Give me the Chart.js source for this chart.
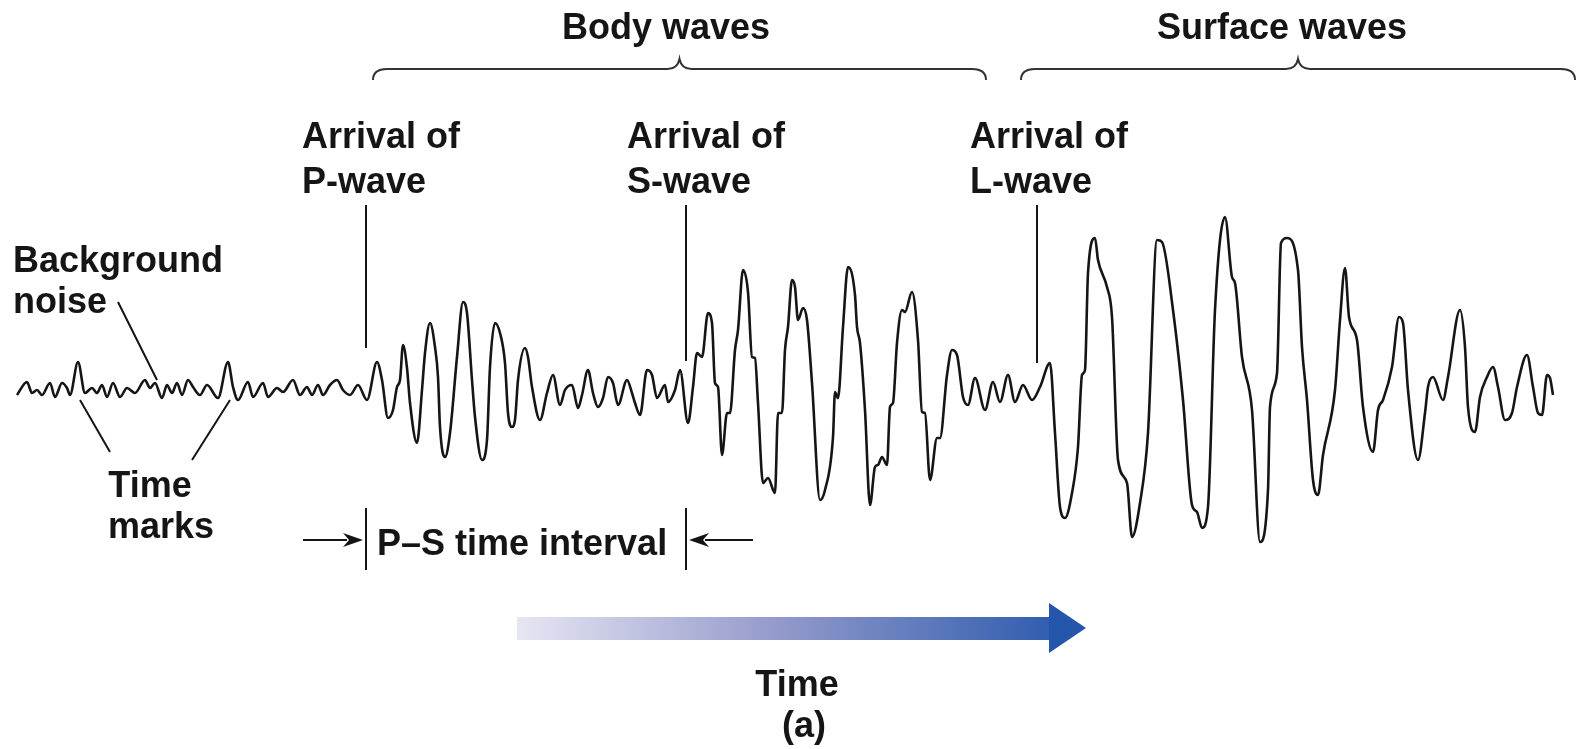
<!DOCTYPE html>
<html>
<head>
<meta charset="utf-8">
<title>Seismogram</title>
<script src="https://cdn.jsdelivr.net/npm/chart.js@4.4.1/dist/chart.umd.min.js"></script>
<style>
  html, body { margin: 0; padding: 0; background: #fff; overflow: hidden; }
  canvas { display: block; }
</style>
</head>
<body>
<canvas id="seismo-chart" width="1581" height="749"></canvas>
<script>
// trace: time (arbitrary units) and amplitude (up = +)
const noiseTime = [17, 27, 32, 37, 42, 50, 55, 62, 67, 70, 78, 85, 92, 97, 102, 107, 113, 120, 127, 135,
  145, 150, 155, 162, 167, 172, 177, 182, 188, 193, 200, 207, 218, 228, 233, 238, 248, 253, 263, 268,
  277, 283, 293, 300, 307, 312, 318, 323, 330, 337, 343, 350, 358, 367];
const noiseAmp = [-3, 10, -1, 2, -3, 9, -5, 9, 4, -3, 30, -1, 4, -1, 7, -5, 9, -5, 4, -1,
  12, 4, 9, -6, 7, -1, 9, -3, 12, 5, -3, 7, -6, 30, 5, -8, 10, -5, 9, -5,
  4, 0, 12, -3, 5, -3, 7, -3, 7, 12, 2, -3, 7, -8];

const pWaveTime = [377, 382, 388, 393, 397, 400, 403, 407, 410, 417, 422, 425, 430, 435, 438, 440, 445, 450,
  457, 463, 467, 472, 475, 482, 487, 490, 495, 500, 505, 508, 512, 515, 518, 525, 528, 532, 540, 547,
  553, 560, 565, 572, 578, 582, 588, 593, 598, 603, 608, 613, 618, 627, 632, 635, 640, 647, 652, 657,
  665, 668, 675, 680];
const pWaveAmp = [30, 12, -26, -18, 5, 12, 47, 24, -11, -51, 2, 39, 69, 45, 15, -35, -65, -41,
  35, 90, 79, 12, -25, -68, -48, 25, 69, 59, 29, -21, -35, -28, 12, 44, 35, 5, -28, -1,
  17, -13, 2, 7, -16, -3, 22, -1, -15, -6, 15, 9, -13, 12, -1, -11, -23, 22, 17, -6,
  7, -10, 2, 22];

const sWaveTime = [688, 693, 697, 702, 708, 712, 715, 718, 722, 727, 730, 735, 738, 743, 748, 752, 755, 758,
  763, 768, 775, 778, 782, 785, 788, 792, 795, 798, 803, 807, 812, 820, 825, 833, 835, 838, 843, 848,
  855, 857, 860, 865, 870, 875, 878, 882, 887, 890, 893, 897, 902, 905, 912, 918, 922, 925, 930, 937,
  940, 947, 952, 957, 963, 968, 975, 985, 993, 1000, 1008, 1015, 1023, 1032];
const sWaveAmp = [-31, 5, 39, 35, 79, 69, 9, 5, -63, -21, -21, 42, 62, 122, 100, 35, 34, -11,
  -91, -86, -101, -21, -21, 42, 65, 112, 105, 72, 84, 72, 9, -108, -98, -45, 0, -6, 65, 125,
  97, 65, 49, -18, -113, -75, -73, -65, -73, -15, -11, 49, 82, 80, 100, 52, -20, -21, -88, -46,
  -46, 17, 42, 37, -5, -13, 14, -18, 10, -10, 17, -10, 7, -8];

const surfaceTime = [1040, 1050, 1055, 1060, 1065, 1072, 1078, 1082, 1085, 1088, 1095, 1098, 1107, 1112, 1118,
  1127, 1132, 1140, 1148, 1157, 1162, 1173, 1183, 1192, 1197, 1202, 1208, 1215, 1225, 1232, 1235, 1242,
  1252, 1260, 1268, 1270, 1277, 1281, 1287, 1298, 1302, 1307, 1313, 1318, 1323, 1335, 1340, 1345, 1349,
  1357, 1363, 1373, 1378, 1383, 1392, 1399, 1403, 1408, 1418, 1425, 1428, 1433, 1443, 1448, 1460, 1465,
  1468, 1475, 1480, 1487, 1493, 1498, 1505, 1512, 1517, 1527, 1533, 1538, 1542, 1547, 1550, 1553];
const surfaceAmp = [5, 29, -41, -115, -126, -101, -55, 17, 22, 119, 154, 132, 105, 75, -68,
  -91, -145, -111, -41, 152, 150, 82, -8, -113, -120, -136, -115, 82, 175, 115, 109, 35,
  -18, -150, -98, -15, 19, 149, 154, 122, 45, -8, -88, -103, -63, 2, 72, 124, 75,
  52, -15, -60, -18, -8, 25, 75, 69, 2, -68, -21, 5, 15, -8, 15, 82, 45,
  -15, -40, -5, 15, 25, 5, -28, -21, 5, 37, 5, -21, -23, 17, 14, -3];

// arrival times of the three phases and the wave-group spans
const arrivalTimes = [366, 686, 1037];
const arrivalLabels = ['P-wave', 'S-wave', 'L-wave'];
const groupLabels = ['Body waves', 'Surface waves'];
const groupSpans = [[373, 986], [1021, 1575]];

const traceTime = [...noiseTime, ...pWaveTime, ...sWaveTime, ...surfaceTime];
const traceAmp = [...noiseAmp, ...pWaveAmp, ...sWaveAmp, ...surfaceAmp];
const tracePoints = traceTime.map((t, i) => ({ x: t, y: traceAmp[i] }));

const INK = '#151515';
const FONT = 'bold 36px "Liberation Sans", Arial, sans-serif';

function arrow(ctx, x0, y, x1) {
  // horizontal line with a filled head at x1
  const dir = Math.sign(x1 - x0);
  ctx.beginPath();
  ctx.moveTo(x0, y);
  ctx.lineTo(x1 - dir * 16, y);
  ctx.stroke();
  ctx.beginPath();
  ctx.moveTo(x1, y);
  ctx.lineTo(x1 - dir * 20, y - 7);
  ctx.lineTo(x1 - dir * 14, y);
  ctx.lineTo(x1 - dir * 20, y + 7);
  ctx.closePath();
  ctx.fill();
}

function brace(ctx, x0, x1, y) {
  const mid = (x0 + x1) / 2;
  ctx.beginPath();
  ctx.moveTo(x0, y + 11);
  ctx.quadraticCurveTo(x0, y, x0 + 14, y);
  ctx.lineTo(mid - 12, y);
  ctx.quadraticCurveTo(mid - 2, y, mid, y - 10);
  ctx.quadraticCurveTo(mid + 2, y, mid + 12, y);
  ctx.lineTo(x1 - 14, y);
  ctx.quadraticCurveTo(x1, y, x1, y + 11);
  ctx.stroke();
}

const labelsPlugin = {
  id: 'seismoLabels',
  afterDatasetsDraw(chart) {
    const ctx = chart.ctx;
    const xs = chart.scales.x;
    const px = v => xs.getPixelForValue(v);
    ctx.save();
    ctx.fillStyle = INK;
    ctx.strokeStyle = INK;
    ctx.font = FONT;
    ctx.textBaseline = 'alphabetic';

    // group braces and titles
    ctx.lineWidth = 2;
    ctx.strokeStyle = '#333';
    groupSpans.forEach((s, i) => {
      brace(ctx, px(s[0]), px(s[1]), 69);
      ctx.textAlign = 'center';
      ctx.fillText(groupLabels[i], i === 0 ? 666 : 1282, 39);
    });

    // arrival markers
    ctx.strokeStyle = INK;
    const lineBottoms = [348, 361, 363];
    const labelLeft = [302, 627, 970];
    arrivalTimes.forEach((t, i) => {
      ctx.beginPath();
      ctx.moveTo(px(t), 205);
      ctx.lineTo(px(t), lineBottoms[i]);
      ctx.stroke();
      ctx.textAlign = 'left';
      ctx.fillText('Arrival of', labelLeft[i], 148);
      ctx.fillText(arrivalLabels[i], labelLeft[i], 193);
    });

    // background noise and time marks callouts
    ctx.textAlign = 'left';
    ctx.fillText('Background', 13, 272);
    ctx.fillText('noise', 13, 313);
    ctx.textAlign = 'center';
    ctx.fillText('Time', 150, 497);
    ctx.fillText('marks', 161, 538);
    ctx.beginPath();
    ctx.moveTo(118, 302); ctx.lineTo(157, 380);
    ctx.moveTo(80, 400); ctx.lineTo(110, 452);
    ctx.moveTo(230, 400); ctx.lineTo(192, 460);
    ctx.stroke();

    // P-S interval
    const pX = px(arrivalTimes[0]);
    const sX = px(arrivalTimes[1]);
    ctx.beginPath();
    ctx.moveTo(pX, 508); ctx.lineTo(pX, 570);
    ctx.moveTo(sX, 508); ctx.lineTo(sX, 570);
    ctx.stroke();
    arrow(ctx, pX - 63, 540, pX - 3);
    arrow(ctx, sX + 67, 540, sX + 3);
    ctx.textAlign = 'left';
    ctx.fillText('P\u2013S time interval', pX + 11, 555);

    // time arrow
    const g = ctx.createLinearGradient(517, 0, 1086, 0);
    g.addColorStop(0, '#e6e6f3');
    g.addColorStop(0.45, '#959bcb');
    g.addColorStop(1, '#2456ac');
    ctx.fillStyle = g;
    ctx.fillRect(517, 617, 534, 23);
    ctx.fillStyle = '#2456ac';
    ctx.beginPath();
    ctx.moveTo(1049, 603);
    ctx.lineTo(1086, 628);
    ctx.lineTo(1049, 653);
    ctx.closePath();
    ctx.fill();

    ctx.fillStyle = INK;
    ctx.textAlign = 'center';
    ctx.fillText('Time', 797, 696);
    ctx.fillText('(a)', 804, 737);
    ctx.restore();
  }
};

new Chart(document.getElementById('seismo-chart'), {
  type: 'line',
  data: {
    datasets: [
      {
        label: 'Seismogram',
        data: tracePoints,
        borderColor: INK,
        borderWidth: 2.6,
        pointRadius: 0,
        fill: false,
        cubicInterpolationMode: 'monotone',
      },
    ],
  },
  options: {
    responsive: false,
    animation: false,
    devicePixelRatio: 1,
    layout: { padding: 0 },
    scales: {
      x: { type: 'linear', min: 0, max: 1581, display: false },
      y: { type: 'linear', min: -357, max: 392, display: false },
    },
    plugins: {
      legend: { display: false },
      tooltip: { enabled: false },
    },
  },
  plugins: [labelsPlugin],
});
</script>
</body>
</html>
